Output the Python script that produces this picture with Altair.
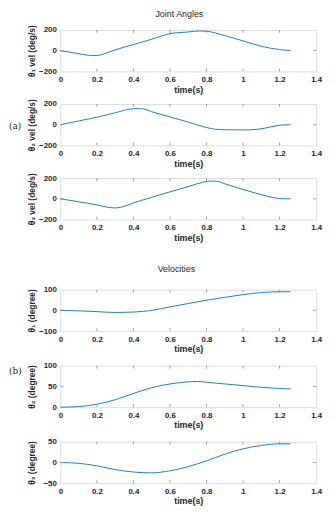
import altair as alt
import pandas as pd

# ---- data ----
t1 = [0, 0.05, 0.1, 0.15, 0.18, 0.22, 0.25, 0.3, 0.4, 0.5, 0.6, 0.7, 0.76, 0.8, 0.9, 1.0, 1.1, 1.2, 1.26]
v1 = [0, -14, -30, -44, -48, -42, -24, 7, 59, 110, 164, 180, 190, 187, 145, 94, 42, 10, 0]

t2 = [0, 0.1, 0.2, 0.3, 0.38, 0.42, 0.46, 0.5, 0.6, 0.7, 0.8, 0.85, 0.9, 1.0, 1.08, 1.15, 1.2, 1.26]
v2 = [0, 36, 72, 115, 150, 156, 150, 125, 76, 25, -27, -44, -48, -51, -44, -22, -5, 0]

t3 = [0, 0.1, 0.2, 0.26, 0.3, 0.34, 0.4, 0.5, 0.6, 0.7, 0.78, 0.82, 0.86, 0.9, 1.0, 1.1, 1.17, 1.22, 1.26]
v3 = [0, -29, -59, -82, -88, -78, -40, 14, 67, 117, 160, 171, 168, 145, 89, 40, 10, 0, 0]

t4 = [0, 0.1, 0.2, 0.3, 0.4, 0.5, 0.6, 0.7, 0.8, 0.9, 1.0, 1.1, 1.2, 1.26]
v4 = [0, -2, -6, -10, -8, 0, 17, 33, 49, 63, 76, 86, 90, 90]

t5 = [0, 0.1, 0.2, 0.3, 0.4, 0.5, 0.6, 0.7, 0.75, 0.8, 0.9, 1.0, 1.1, 1.2, 1.26]
v5 = [0, 1.5, 7, 18, 33, 47, 56, 61, 62, 60, 56, 52, 48, 45, 44]

t6 = [0, 0.1, 0.2, 0.3, 0.4, 0.5, 0.6, 0.7, 0.8, 0.9, 1.0, 1.1, 1.2, 1.26]
v6 = [0, -2, -8, -17, -23, -25, -20, -10, 4, 20, 33, 41, 45, 45]

x_ticks = [0, 0.2, 0.4, 0.6, 0.8, 1, 1.2, 1.4]
y_ticks_a = [-200, 0, 200]
y_ticks_b1 = [-100, 0, 100]
y_ticks_b2 = [0, 50, 100]
y_ticks_b3 = [-50, 0, 50]

y_titles = ["θ₁ vel (deg/s)", "θ₂ vel (deg/s)", "θ₃ vel (deg/s)",
            "θ₁ (degree)", "θ₂ (degree)", "θ₃ (degree)"]

W, H = 259, 42
LINE = "#0072BD"
BOX = "#8a8a8a"
FONT = "Liberation Sans"


def panel(t, v, yticks, ytitle, title=None, title_offset=14, head_text=None,
          side_label=None, side_y=None):
    df = pd.DataFrame({"t": t, "v": v})
    xs = alt.Scale(domain=[0, 1.4], nice=False, zero=False)
    ys = alt.Scale(domain=[yticks[0], yticks[-1]], nice=False, zero=False)
    xaxis = alt.Axis(values=x_ticks, format="~g", title="time(s)", grid=False,
                     domain=False, ticks=False, labelPadding=4, titlePadding=2,
                     labelOverlap=False, labelFlush=False,
                     labelFont=FONT, labelFontSize=8, labelFontWeight="bold",
                     labelColor="#262626", titleFont=FONT, titleFontSize=9,
                     titleFontWeight="bold", titleColor="#262626")
    yaxis = alt.Axis(values=yticks, title=ytitle, grid=False, domain=False, ticks=False,
                     labelPadding=4, labelOverlap=False, labelFlush=False,
                     labelFont=FONT, labelFontSize=8,
                     labelFontWeight="bold", labelColor="#262626",
                     titleFont=FONT, titleFontSize=8.5, titleFontWeight="bold",
                     titleColor="#262626", titleX=-24, titleY=H / 2)
    X = alt.X("t:Q", scale=xs, axis=xaxis)
    Y = alt.Y("v:Q", scale=ys, axis=yaxis)
    line = alt.Chart(df).mark_line(color=LINE, strokeWidth=0.9, interpolate="monotone").encode(
        x=X, y=Y)
    xt = pd.DataFrame({"t": x_ticks[1:-1]})
    yt = pd.DataFrame({"v": yticks[1:-1]})
    tb = alt.Chart(xt).mark_rule(color=BOX, strokeWidth=0.8).encode(
        x=X, y=alt.value(H), y2=alt.value(H - 3))
    tt = alt.Chart(xt).mark_rule(color=BOX, strokeWidth=0.8).encode(
        x=X, y=alt.value(0), y2=alt.value(3))
    tl = alt.Chart(yt).mark_rule(color=BOX, strokeWidth=0.8).encode(
        y=Y, x=alt.value(0), x2=alt.value(3))
    tr = alt.Chart(yt).mark_rule(color=BOX, strokeWidth=0.8).encode(
        y=Y, x=alt.value(W - 3), x2=alt.value(W))
    layers = [line, tb, tt, tl, tr]
    if side_label is not None:
        lab = alt.Chart(pd.DataFrame({"s": [side_label]})).mark_text(
            font="DejaVu Serif", fontSize=9, align="left", baseline="middle", color="#222"
        ).encode(text="s:N", x=alt.value(-52), y=alt.value(side_y))
        layers.append(lab)
    if head_text is not None:
        hd = alt.Chart(pd.DataFrame({"s": [head_text]})).mark_text(
            font=FONT, fontSize=9, align="center", baseline="middle", color="#262626"
        ).encode(text="s:N", x=alt.value(W / 2 - 9), y=alt.value(-16))
        layers.append(hd)
    ch = alt.layer(*layers).properties(width=W, height=H)
    if title is not None:
        ch = ch.properties(title=alt.TitleParams(title, font=FONT, fontSize=9,
                                                 fontWeight="normal", color="#262626",
                                                 offset=title_offset, dx=-12))
    return ch


p1 = panel(t1, v1, y_ticks_a, y_titles[0], head_text="Joint Angles")
p2 = panel(t2, v2, y_ticks_a, y_titles[1], side_label="(a)", side_y=22)
p3 = panel(t3, v3, y_ticks_a, y_titles[2])
p4 = panel(t4, v4, y_ticks_b1, y_titles[3], title="Velocities", title_offset=12)
p5 = panel(t5, v5, y_ticks_b2, y_titles[4], side_label="(b)", side_y=5)
p6 = panel(t6, v6, y_ticks_b3, y_titles[5])

g1 = alt.vconcat(p1, p2, p3, spacing=3)
g2 = alt.vconcat(p4, p5, p6, spacing=6)

chart = alt.vconcat(g1, g2, spacing=21).properties(
    padding={"left": 0, "top": -2, "right": 5, "bottom": 5}
).configure_view(stroke=BOX, strokeWidth=1).configure(background="white")

chart.save("out.html", embed_options={"renderer": "svg", "actions": False})
